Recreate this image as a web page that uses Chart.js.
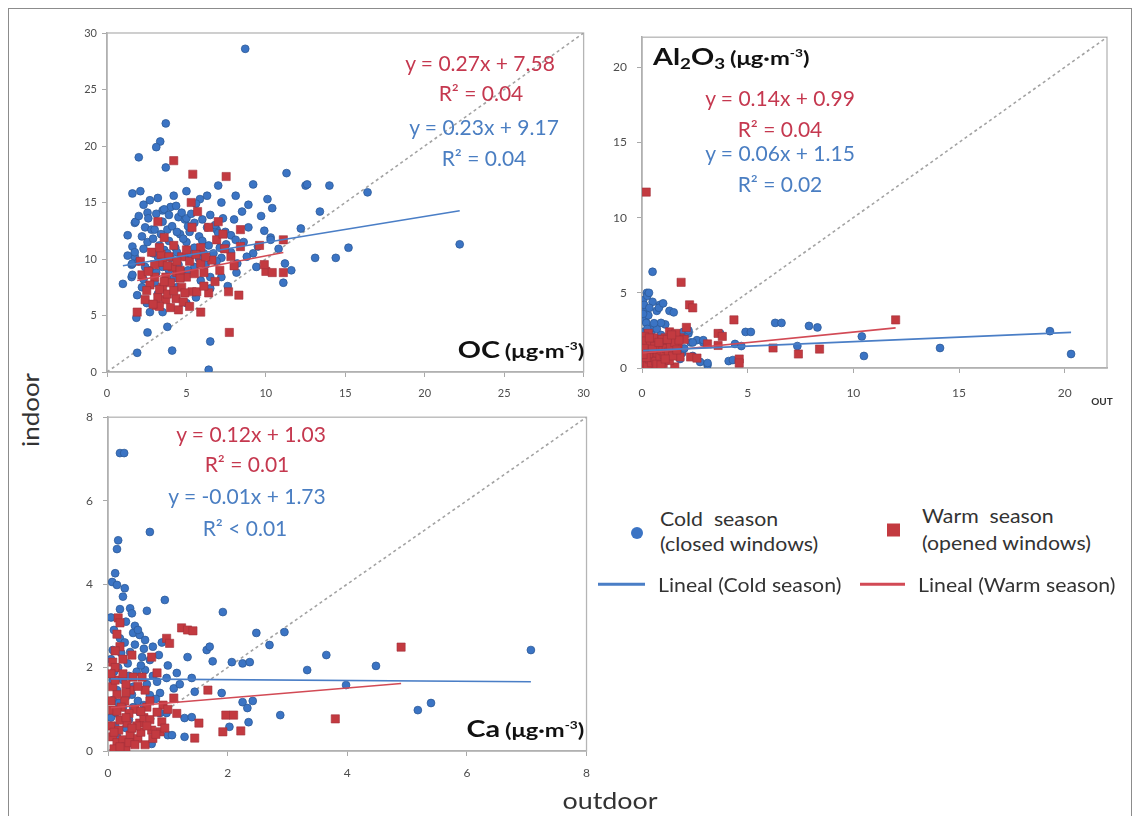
<!DOCTYPE html>
<html>
<head>
<meta charset="utf-8">
<script src="https://cdn.jsdelivr.net/npm/chart.js@4.4.0/dist/chart.umd.min.js"></script>
<style>
  body { margin:0; background:#fff; width:1141px; height:816px; overflow:hidden; position:relative;
         font-family: Lato, "Open Sans", sans-serif; }
  .frame { position:absolute; left:8px; top:8px; width:1124px; height:840px; border:1px solid #8c8c8c; box-sizing:border-box; }
  canvas { position:absolute; }
  .t { position:absolute; white-space:nowrap; line-height:1; transform:translate(-50%,-50%); }
  .eq { font-size:21px; }
  .red { color:#c5384f; }
  .blue { color:#4a7ec2; }
  .title { position:absolute; white-space:nowrap; line-height:1; font-weight:bold; color:#111; }
  .title.r { transform:translateY(-50%) scaleX(1.25); transform-origin:right center; }
  .title.l { transform:translateY(-50%) scaleX(1.25); transform-origin:left center; }
  .title .big { font-size:23px; }
  .title .unit { font-size:19px; }
  .title sup { font-size:11px; vertical-align:8px; }
  .title sub { font-size:15px; vertical-align:-4px; }
  .lg { position:absolute; white-space:nowrap; line-height:1; font-size:19px; color:#333;
        transform:translateY(-50%) scaleX(1.12); transform-origin:left center; }
  .mk { position:absolute; transform:translateY(-50%); }
  .axt { position:absolute; white-space:nowrap; line-height:1; font-size:24px; color:#333; }
</style>
</head>
<body>
<div class="frame"></div>
<canvas id="cOC" width="550" height="395" style="left:50px;top:20px"></canvas>
<canvas id="cAl" width="535" height="395" style="left:590px;top:20px"></canvas>
<canvas id="cCa" width="550" height="395" style="left:50px;top:400px"></canvas>

<div id="texts"></div>

<script>
// ---------- OC (µg·m-3): indoor vs outdoor ----------
const ocCold = [[8.7,28.6],[3.7,22.0],[3.35,20.4],[3.1,19.9],[2.0,19.0],[3.7,18.1],[11.3,17.6],[12.5,16.5],[14.0,16.5],[16.4,15.9],
  [7.0,16.5],[1.6,15.8],[2.1,16.0],[3.2,15.4],[5.0,16.0],[5.85,15.3],[7.2,15.0],[8.1,15.6],[10.1,15.3],[8.5,14.2],
  [9.7,13.8],[13.4,14.2],[2.55,14.1],[3.5,14.3],[4.0,14.6],[4.35,14.7],[3.6,14.4],[4.5,13.7],[4.9,13.5],[5.0,13.6],
  [5.5,13.2],[1.75,13.2],[1.8,13.3],[2.4,12.8],[2.8,12.6],[3.0,12.6],[3.5,13.3],[3.8,12.6],[6.9,12.6],[7.0,12.3],
  [7.45,12.4],[7.8,12.1],[8.9,12.8],[10.3,11.9],[10.3,11.7],[12.2,12.7],[1.6,11.1],[2.55,11.5],[5.0,11.5],[5.5,11.0],
  [6.1,10.5],[6.7,10.5],[7.8,10.6],[9.2,10.5],[1.75,10.2],[1.75,10.6],[3.2,10.2],[4.0,10.1],[4.9,10.2],[7.2,10.1],
  [8.2,9.6],[1.55,9.5],[1.6,9.6],[3.5,9.3],[5.5,9.3],[11.2,9.6],[6.5,8.4],[7.2,8.4],[8.15,8.8],[11.1,7.9],
  [1.0,7.8],[1.55,8.4],[1.6,8.6],[3.0,7.9],[4.4,7.5],[6.5,7.4],[1.9,6.8],[2.5,6.1],[5.0,6.1],[2.7,5.3],
  [3.5,5.3],[1.85,4.8],[2.55,3.5],[3.8,4.0],[6.5,2.7],[4.1,1.9],[1.9,1.7],[6.4,0.2],[13.1,10.1],[14.4,10.1],
  [15.2,11.0],[22.2,11.3],[12.6,16.6],[11.6,9.0],[2.2,12.0],[2.9,11.8],[3.3,11.2],[3.9,11.6],[4.3,11.0],[4.6,12.2],
  [5.2,12.4],[5.8,12.0],[6.3,12.8],[6.0,11.6],[4.1,12.9],[3.6,10.8],[2.3,10.9],[2.0,9.8],[2.7,9.0],[4.5,9.5],
  [4.8,8.9],[5.3,10.4],[6.9,9.8],[7.5,11.3],[8.6,11.5],[9.5,11.1],[8.8,10.2],[9.4,9.3],[6.2,9.5],[5.9,8.1],
  [4.2,8.3],[3.2,6.9],[2.2,7.5],[5.6,6.6],[7.6,7.6],[3.9,13.9],[6.5,13.9],[8.0,13.5],[2.3,14.8],[5.6,14.9],
  [9.2,16.6],[10.4,14.5],[2.6,13.6],[3.1,14.0],[4.7,14.1],[5.3,14.0],[6.0,13.5],[6.8,13.0],[7.3,13.6],[3.4,12.2],
  [4.4,12.4],[5.1,12.9],[2.9,10.5],[3.8,10.5],[4.4,10.6],[6.4,11.2],[7.1,11.0],[8.1,11.7],[2.4,9.3],[3.1,8.8],
  [3.9,9.0],[5.1,9.0],[5.8,10.0],[1.3,10.3],[1.3,12.1],[2.0,13.8],[2.7,15.2],[4.2,15.6],[6.3,15.6],[8.9,14.8],
  [9.9,12.5],[10.8,10.9],[2.3,8.2],[4.8,11.8]];
const ocWarm = [[4.2,18.7],[5.4,17.5],[7.5,17.3],[5.3,15.0],[5.7,14.2],[3.2,13.3],[5.35,12.8],[6.4,12.8],[7.0,13.3],[8.4,12.6],
  [3.6,11.9],[4.2,11.2],[5.9,11.0],[8.4,11.1],[9.6,11.2],[11.1,11.7],[3.4,10.4],[3.9,10.2],[4.7,10.2],[5.9,9.6],
  [7.8,10.2],[2.2,8.6],[3.0,8.4],[3.7,8.4],[4.4,8.8],[5.0,8.4],[6.1,8.8],[10.0,8.9],[10.4,8.8],[11.1,8.8],
  [2.7,7.7],[3.5,7.5],[4.0,7.9],[4.7,7.5],[5.35,7.1],[5.65,7.1],[6.4,7.0],[7.65,7.1],[8.3,6.8],[3.2,6.6],
  [3.7,6.4],[4.35,6.5],[3.1,5.9],[4.0,5.7],[4.5,5.5],[1.9,5.3],[3.3,5.8],[5.9,5.3],[7.7,3.5],[3.5,9.7],
  [4.1,9.3],[4.6,9.0],[3.0,9.5],[2.6,8.9],[4.9,7.0],[5.2,9.8],[6.6,9.9],[2.4,6.4],[2.9,6.0],[3.8,6.9],
  [4.8,6.2],[5.2,5.8],[3.3,11.0],[6.9,11.7],[2.1,9.8],[6.8,8.0],[7.4,10.9],[9.9,9.5],[7.3,12.2],[3.8,9.4],
  [4.4,9.8],[5.5,8.7],[3.3,7.3],[4.2,7.2],[2.8,10.6],[5.6,10.4],[6.2,10.2],[4.6,8.3],[3.6,8.0],[5.0,10.8],
  [6.1,7.6],[2.5,7.2],[7.1,9.0],[8.0,9.4]];
const ocColdFit = [0.23, 9.17];   // slope, intercept
const ocWarmFit = [0.27, 7.58];
const ocR2 = { cold: "= 0.04", warm: "= 0.04" };

// ---------- Al2O3 (µg·m-3) ----------
const alCold = [[0.5,6.4],[0.23,5.0],[0.05,4.5],[0.85,4.2],[1.3,3.8],[0.7,3.8],[0.15,3.8],[0.15,3.2],[0.6,2.9],[1.1,2.9],
  [0.4,2.6],[0.05,2.4],[1.95,2.4],[6.3,3.0],[7.9,2.8],[4.9,2.4],[10.4,2.1],[19.3,2.45],[14.1,1.33],[10.5,0.8],
  [20.3,0.93],[7.35,1.46],[4.4,1.6],[4.7,1.46],[3.7,2.3],[2.6,1.85],[2.9,1.7],[2.3,1.7],[4.1,0.46],[2.75,0.4],
  [3.1,0.2],[1.9,1.0],[1.3,1.1],[0.3,1.8],[0.6,1.5],[0.9,2.2],[1.5,1.9],[0.2,1.2],[0.8,0.9],[1.6,1.4],
  [0.4,0.6],[1.1,1.6],[0.1,2.0],[0.7,2.6],[1.2,0.5],[0.3,3.5],[0.9,3.0],[1.6,2.1],[2.2,2.3],[0.5,4.4],
  [0.25,4.8],[2.4,0.8],[1.8,0.6],[0.05,0.3],[0.6,0.2],[0.33,5.0],[0.8,4.0],[1.0,4.3],[1.5,3.7],[0.2,3.0],
  [0.57,2.98],[2.2,2.5],[2.4,1.7],[2.9,1.85],[4.3,0.53],[3.1,0.33],[5.15,2.4],[6.6,3.0],[8.3,2.7],[0.1,0.8],
  [0.3,0.4],[0.5,1.0],[0.7,1.2],[1.0,0.7],[0.15,1.5],[0.45,2.2],[0.25,2.6],[1.3,2.0],[1.7,0.9],[2.0,1.3],
  [0.05,3.6],[0.1,4.2],[0.35,4.0]];
const alWarm = [[0.2,11.7],[1.85,5.7],[2.25,4.2],[2.4,4.0],[4.35,3.2],[12.0,3.2],[1.3,2.4],[2.1,2.7],[3.6,2.3],[3.8,2.1],
  [3.1,1.6],[3.6,1.5],[6.2,1.33],[8.4,1.26],[7.4,0.93],[4.6,0.6],[4.6,0.33],[1.55,0.07],[2.3,0.73],[2.6,0.66],
  [1.8,0.73],[0.1,0.2],[0.2,0.5],[0.3,0.3],[0.4,0.8],[0.5,0.4],[0.6,1.0],[0.7,0.6],[0.8,1.2],[0.9,0.8],
  [1.0,1.4],[1.1,1.0],[1.2,1.6],[1.3,1.3],[1.4,1.8],[1.5,1.5],[1.6,1.9],[1.7,1.6],[1.8,2.0],[0.1,1.0],
  [0.2,1.5],[0.3,1.9],[0.15,0.05],[0.35,1.3],[0.5,1.7],[0.6,0.1],[0.7,1.9],[0.9,1.6],[1.0,0.3],[1.2,0.8],
  [0.05,1.6],[0.25,0.9],[0.45,1.1],[0.55,2.0],[0.75,1.4],[0.85,0.4],[1.1,2.0],[1.3,0.5],[0.05,0.6],[0.4,0.05],
  [0.8,0.05],[0.65,1.25],[1.45,1.2],[0.95,1.9],[1.6,2.3],[0.3,2.3],[2.0,1.9],[0.12,2.1],[0.15,0.4],[0.25,0.15],
  [0.35,0.6],[0.45,0.35],[0.55,0.7],[0.65,0.45],[0.75,1.0],[0.85,0.75],[0.95,1.15],[1.05,0.9],[1.15,1.3],[1.25,1.05],
  [1.35,1.5],[1.45,0.8],[1.55,1.7],[1.65,1.2],[1.75,1.85],[0.2,1.8],[0.4,1.5],[0.6,1.45],[0.1,1.3],[0.3,0.95],
  [0.5,1.25],[0.7,0.25],[0.9,0.2],[1.1,0.6],[0.2,0.7],[0.05,0.9],[0.35,2.0],[0.8,1.7],[1.2,1.9],[1.4,2.2]];
const alColdFit = [0.06, 1.15];
const alWarmFit = [0.14, 0.99];
const alR2 = { cold: "= 0.02", warm: "= 0.04" };

// ---------- Ca (µg·m-3) ----------
const caCold = [[0.2,7.14],[0.27,7.14],[0.7,5.25],[0.17,5.05],[0.15,4.84],[0.12,4.26],[0.07,4.05],[0.15,3.98],[0.28,3.9],[0.25,3.7],
  [0.37,3.42],[0.4,3.3],[0.95,3.62],[0.65,3.36],[1.92,3.33],[0.3,3.1],[0.42,2.83],[0.53,2.78],[0.62,2.66],[0.2,2.7],
  [0.75,2.5],[0.9,2.6],[0.08,2.42],[0.37,2.37],[0.57,2.25],[0.7,2.18],[1.33,2.25],[1.65,2.42],[1.7,2.5],[1.75,2.15],
  [2.07,2.13],[2.25,2.1],[2.37,2.13],[2.48,2.83],[2.7,2.54],[2.95,2.85],[3.33,1.94],[3.65,2.3],[1.15,1.87],[1.4,1.75],
  [0.62,1.94],[0.82,1.66],[0.98,1.75],[0.17,2.0],[0.25,1.7],[0.42,1.54],[0.7,1.34],[0.87,1.39],[1.45,1.42],[1.9,1.39],
  [2.25,1.17],[2.42,1.2],[2.33,1.03],[2.35,0.69],[2.88,0.86],[1.28,0.79],[1.4,0.81],[2.03,0.58],[1.0,0.38],[1.07,0.38],
  [0.73,0.17],[1.28,0.34],[0.08,1.7],[0.15,1.46],[0.08,1.22],[0.12,0.91],[0.25,1.05],[0.42,1.05],[0.53,0.93],[0.87,0.91],
  [0.98,0.91],[4.48,2.04],[7.07,2.42],[5.18,0.98],[5.4,1.15],[3.98,1.58],[0.33,2.1],[0.48,1.9],[0.22,2.35],[0.6,2.45],
  [0.45,3.0],[0.3,1.3],[0.5,1.2],[0.65,1.6],[0.12,0.6],[0.35,0.75],[0.2,3.4],[0.1,1.9],[0.05,3.2],[0.1,2.9],
  [0.28,2.6],[0.45,2.55],[0.55,2.05],[0.35,1.8],[0.75,1.8],[0.05,2.2],[0.18,1.15],[0.4,1.35],[0.6,1.1],[0.8,1.25],
  [1.1,1.5],[1.2,1.6],[0.15,0.35],[0.05,0.8],[0.5,2.9],[0.85,2.3],[1.0,2.05],[0.3,0.55]];
const caWarm = [[0.17,3.19],[0.2,3.07],[0.08,2.13],[0.12,2.0],[0.2,2.5],[0.73,2.25],[0.98,2.7],[1.03,2.58],[1.23,2.95],[1.33,2.9],
  [1.42,2.88],[0.57,1.77],[0.82,1.87],[0.08,1.54],[0.37,1.46],[0.42,1.77],[0.62,1.46],[1.1,1.27],[1.67,1.46],[0.92,1.1],
  [0.82,0.93],[0.65,1.05],[0.08,0.98],[0.2,0.74],[0.32,0.67],[0.53,0.67],[0.73,0.5],[0.87,0.46],[1.52,0.67],[1.97,0.86],
  [2.1,0.86],[2.22,0.48],[1.92,0.46],[1.45,0.31],[3.8,0.77],[4.9,2.49],[0.08,0.34],[0.15,0.2],[0.25,0.27],[0.37,0.38],
  [0.42,0.2],[0.1,0.05],[0.3,0.1],[0.5,0.3],[0.6,0.8],[0.45,1.0],[0.28,1.2],[0.15,1.35],[0.35,0.9],[0.55,0.45],
  [0.7,0.75],[0.05,0.6],[0.18,0.5],[0.25,2.2],[0.4,2.3],[0.15,2.8],[0.62,0.15],[0.48,0.6],[0.22,1.05],[0.12,1.7],
  [0.05,1.2],[0.75,0.3],[0.9,0.7],[1.0,1.0],[0.3,1.6],[0.1,0.45],[0.2,0.1],[0.35,0.2],[0.45,0.15],[0.55,0.95],
  [0.4,0.55],[0.65,0.6],[0.15,0.95],[0.3,1.4],[0.5,1.55],[0.05,1.85],[0.25,1.85],[0.7,1.2],[0.8,0.4],[0.95,0.55],
  [0.12,2.4],[0.3,0.8],[1.15,0.9]];
const caColdFit = [-0.01, 1.73];
const caWarmFit = [0.12, 1.03];
const caR2 = { cold: "< 0.01", warm: "= 0.01" };

// axis limits and tick steps
const ocAxis = { max: 30, step: 5 };
const alAxis = { max: 22, step: 5 };
const caAxis = { max: 8, step: 2 };

// ---------- drawing ----------
const BLUE = '#3b74c4', BLUE_EDGE = '#2d5a98';
const RED = '#c33a40', RED_EDGE = '#a3303a';
const AXIS = '#a9a9a9';

const plotFrame = {
  id: 'plotFrame',
  beforeDatasetsDraw(chart) {
    const a = chart.chartArea, ctx = chart.ctx;
    ctx.save();
    ctx.strokeStyle = '#b5b5b5';
    ctx.lineWidth = 1.3;
    ctx.strokeRect(a.left, a.top, a.right - a.left, a.bottom - a.top);
    ctx.restore();
  }
};

const toPts = arr => arr.map(p => ({ x: p[0], y: p[1] }));

// trend line spanning the x range of its series
function fitLine(points, fit) {
  const xs = points.map(p => p[0]);
  const x0 = Math.min(...xs), x1 = Math.max(...xs);
  return [{ x: x0, y: fit[0] * x0 + fit[1] }, { x: x1, y: fit[0] * x1 + fit[1] }];
}

function panel(id, canvasBox, area, axis, cold, warm, coldFit, warmFit, opt) {
  const yWidth = area.l - canvasBox.l;
  const xHeight = canvasBox.t + canvasBox.h - area.b;
  const onStep = s => { s.ticks = s.ticks.filter(t => Math.abs(t.value / axis.step - Math.round(t.value / axis.step)) < 1e-6); };
  const scale = (isX) => ({
    type: 'linear', min: 0, max: axis.max,
    ticks: { stepSize: axis.step, color: '#4d4d4d', font: { size: opt.tickSize, family: 'Lato' },
             padding: isX ? opt.padX : opt.padY, maxRotation: 0, autoSkip: false },
    grid: { drawOnChartArea: false, tickLength: 5, color: AXIS, lineWidth: 1 },
    border: { color: AXIS, width: 1.5 },
    afterBuildTicks: onStep,
    afterFit: s => { if (isX) s.height = xHeight; else s.width = yWidth; }
  });
  return new Chart(document.getElementById(id), {
    type: 'scatter',
    data: {
      datasets: [
        { data: fitLine(cold, coldFit), showLine: true, pointRadius: 0, borderColor: '#4a7ec6', borderWidth: 1.6, order: 0 },
        { data: fitLine(warm, warmFit), showLine: true, pointRadius: 0, borderColor: '#d24a55', borderWidth: 1.6, order: 1 },
        { data: toPts(warm), pointStyle: 'rect', pointRadius: 5.8, backgroundColor: RED, borderColor: RED_EDGE, borderWidth: 0.6, order: 2 },
        { data: toPts(cold), pointStyle: 'circle', pointRadius: 3.9, backgroundColor: BLUE, borderColor: BLUE_EDGE, borderWidth: 0.8, order: 3 },
        { data: [{ x: 0, y: 0 }, { x: axis.max, y: axis.max }], showLine: true, pointRadius: 0,
          borderColor: '#a3a3a3', borderWidth: 1.6, borderDash: [3, 3], order: 4 }
      ]
    },
    options: {
      responsive: false, animation: false, devicePixelRatio: 1,
      layout: { padding: { top: area.t - canvasBox.t, right: canvasBox.l + canvasBox.w - area.r, left: 0, bottom: 0 } },
      plugins: { legend: { display: false }, tooltip: { enabled: false } },
      scales: { x: scale(true), y: scale(false) }
    },
    plugins: [plotFrame]
  });
}

panel('cOC', { l: 50, t: 20, w: 550, h: 395 }, { l: 107, t: 33, r: 588, b: 372 }, ocAxis,
      ocCold, ocWarm, ocColdFit, ocWarmFit, { tickSize: 11, padX: 10, padY: 5 });
panel('cAl', { l: 590, t: 20, w: 535, h: 395 }, { l: 642, t: 33, r: 1107, b: 368 }, alAxis,
      alCold, alWarm, alColdFit, alWarmFit, { tickSize: 12, padX: 13, padY: 10 });
panel('cCa', { l: 50, t: 400, w: 550, h: 395 }, { l: 108, t: 416, r: 588, b: 751 }, caAxis,
      caCold, caWarm, caColdFit, caWarmFit, { tickSize: 12, padX: 10, padY: 10 });

// ---------- equations, titles, legend ----------
const fmtEq = f => `y = ${f[0].toFixed(2)}x + ${f[1].toFixed(2)}`;
const T = document.getElementById('texts');
function put(html, cls, style) {
  const d = document.createElement('div');
  d.className = cls; d.innerHTML = html; d.setAttribute('style', style);
  T.appendChild(d);
}
// OC
put(fmtEq(ocWarmFit), 't eq red', 'left:480px;top:62px');
put('R² ' + ocR2.warm, 't eq red', 'left:481px;top:92px');
put(fmtEq(ocColdFit), 't eq blue', 'left:484px;top:126px');
put('R² ' + ocR2.cold, 't eq blue', 'left:484px;top:157px');
put('<span class="big">OC</span> <span class="unit">(μg·m<sup>-3</sup>)</span>', 'title r', 'right:557px;top:349px');
// Al2O3
put('<span class="big">Al<sub>2</sub>O<sub>3</sub></span> <span class="unit">(μg·m<sup>-3</sup>)</span>', 'title l', 'left:653px;top:58px');
put(fmtEq(alWarmFit), 't eq red', 'left:780px;top:97px');
put('R² ' + alR2.warm, 't eq red', 'left:780px;top:128px');
put(fmtEq(alColdFit), 't eq blue', 'left:780px;top:152px');
put('R² ' + alR2.cold, 't eq blue', 'left:780px;top:183px');
put('OUT', 't', 'left:1102px;top:401px;font-size:10px;font-weight:bold;color:#333');
// Ca
put(fmtEq(caWarmFit), 't eq red', 'left:251px;top:433px');
put('R² ' + caR2.warm, 't eq red', 'left:247px;top:463px');
put(fmtEq(caColdFit), 't eq blue', 'left:247px;top:495px');
put('R² ' + caR2.cold, 't eq blue', 'left:245px;top:527px');
put('<span class="big">Ca</span> <span class="unit">(μg·m<sup>-3</sup>)</span>', 'title r', 'right:557px;top:728px');
// axis titles
put('indoor', 'axt', 'left:30px;top:410px;transform:translate(-50%,-50%) rotate(-90deg) scaleX(1.08)');
put('outdoor', 'axt', 'left:610px;top:800px;transform:translate(-50%,-50%) scaleX(1.12)');
// legend
put('', 'mk', `left:631px;top:533px;width:12px;height:12px;border-radius:50%;background:${BLUE}`);
put('Cold&nbsp; season', 'lg', 'left:660px;top:518px');
put('(closed windows)', 'lg', 'left:660px;top:543px');
put('', 'mk', `left:887px;top:530px;width:13px;height:13px;background:${RED}`);
put('Warm&nbsp; season', 'lg', 'left:922px;top:515px');
put('(opened windows)', 'lg', 'left:922px;top:542px');
put('', 'mk', 'left:598px;top:584px;width:47px;height:2.5px;background:#4a7ec6');
put('Lineal (Cold season)', 'lg', 'left:658px;top:584px');
put('', 'mk', 'left:860px;top:584px;width:45px;height:2.5px;background:#d24a55');
put('Lineal (Warm season)', 'lg', 'left:918px;top:584px');
</script>
</body>
</html>
